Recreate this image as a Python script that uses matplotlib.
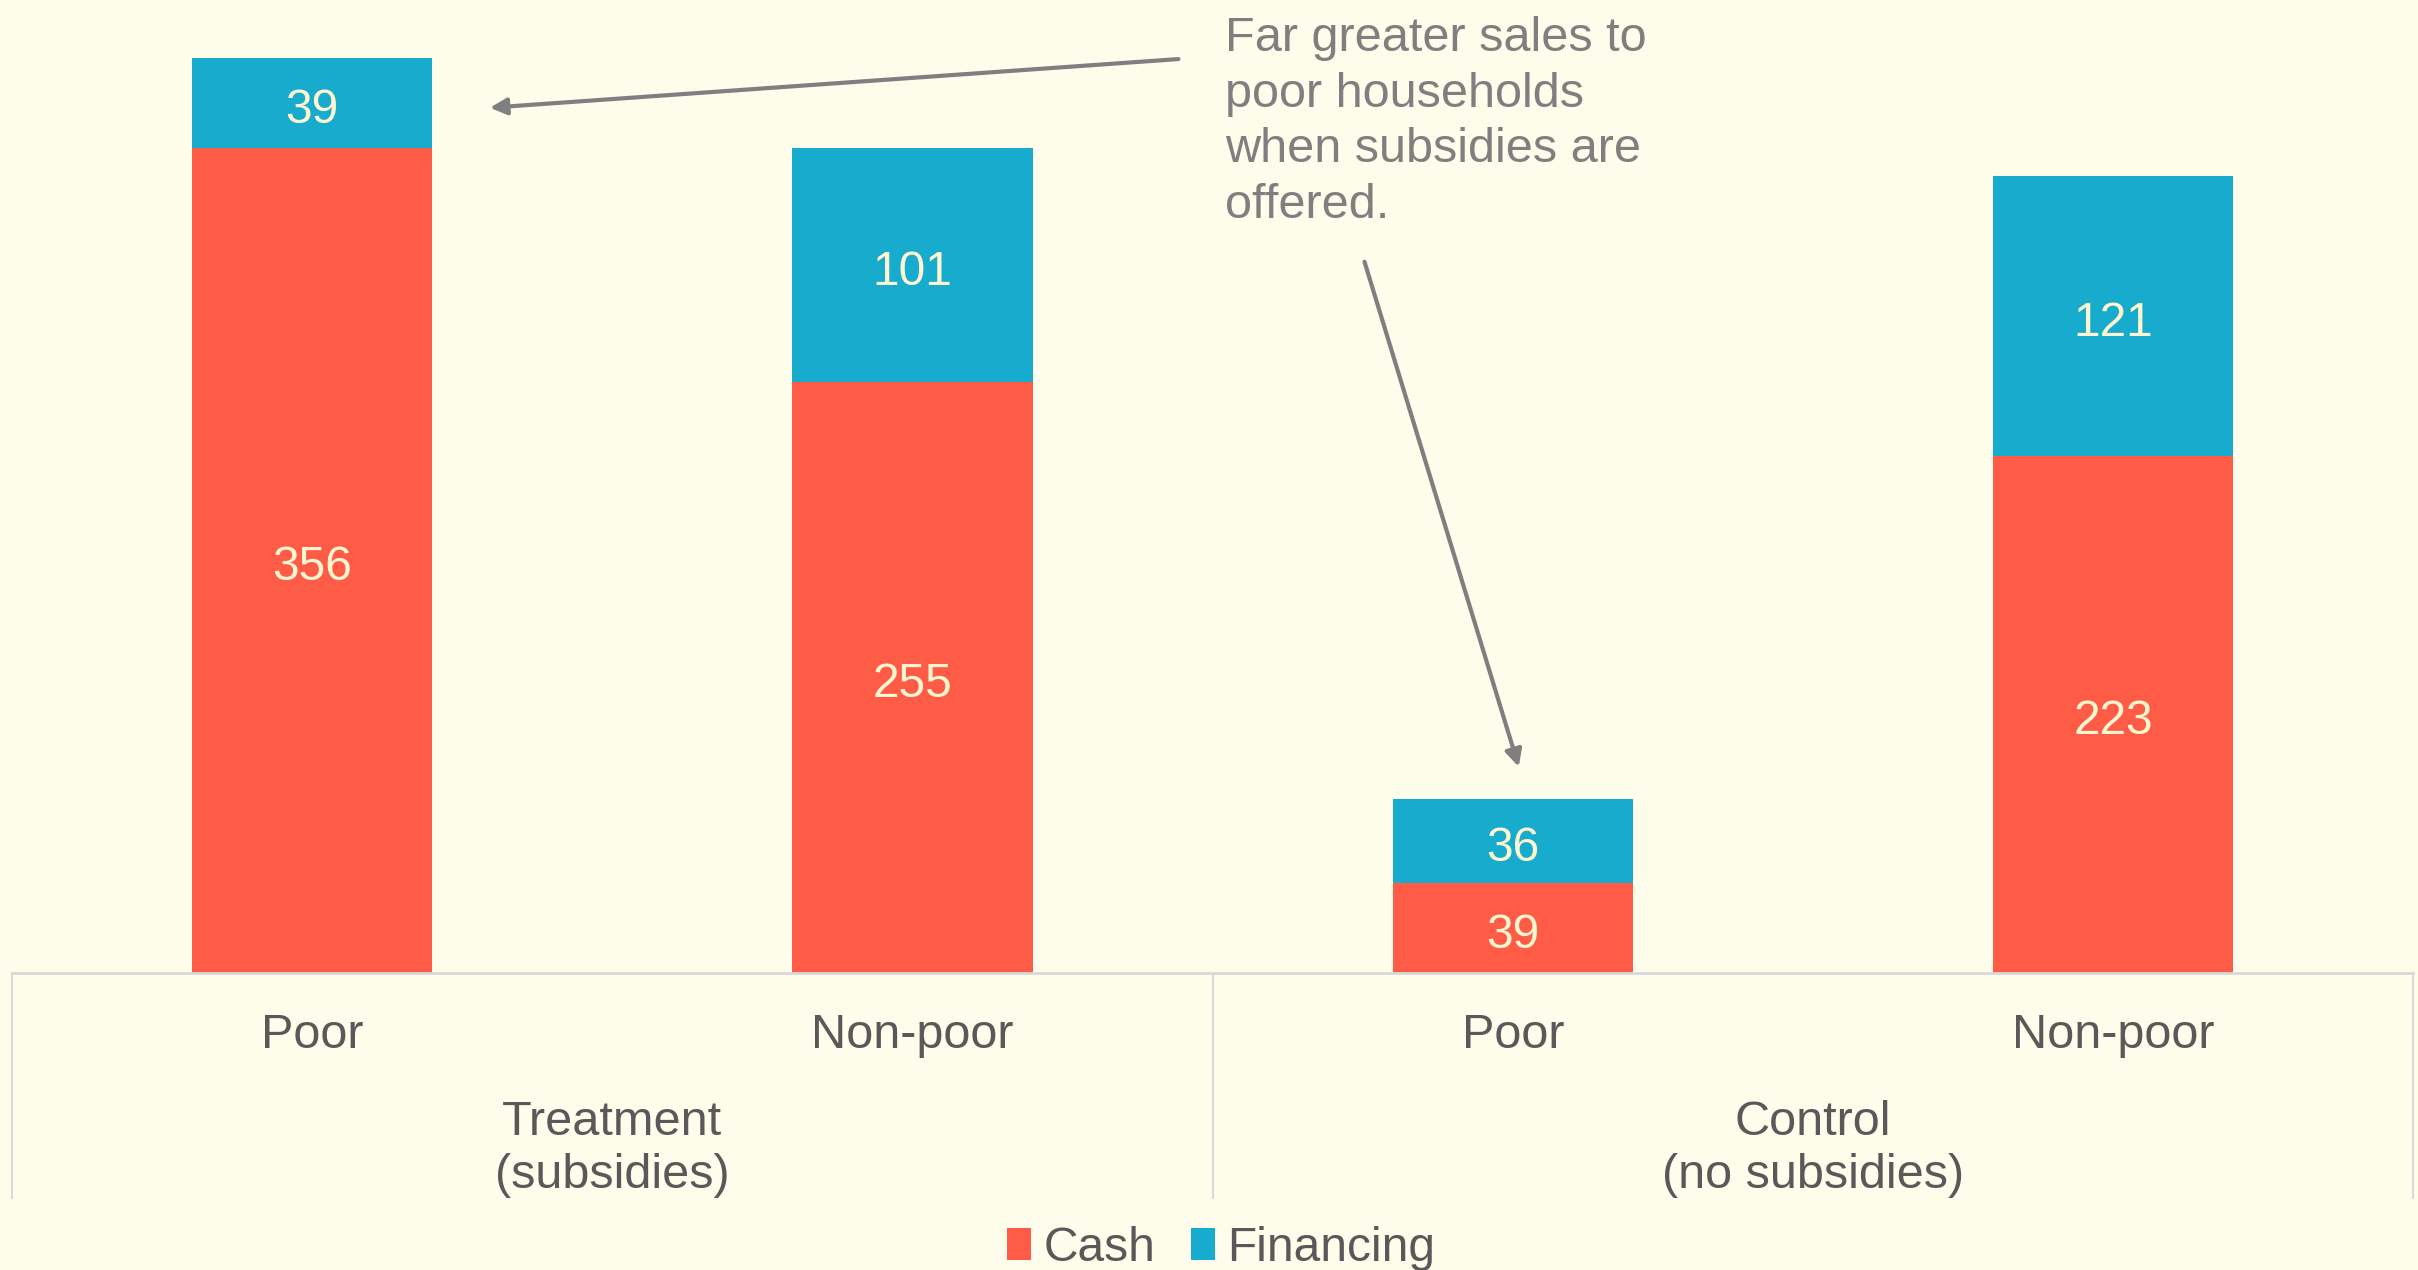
import matplotlib.pyplot as plt
from matplotlib.transforms import blended_transform_factory

plt.rcParams['font.family'] = ['Liberation Sans', 'DejaVu Sans']

groups = ['Treatment\n(subsidies)', 'Control\n(no subsidies)']
categories = ['Poor', 'Non-poor', 'Poor', 'Non-poor']
cash = [356, 255, 39, 223]
financing = [39, 101, 36, 121]

bg = '#fefdeb'
red = '#ff5c48'
blue = '#17abcd'
label_gray = '#595959'
note_gray = '#7f7f7f'
cream = '#fff6d0'

fig = plt.figure(figsize=(24.18, 12.70), dpi=100, facecolor=bg)
ax = fig.add_axes([0.005, 0.2339, 0.993, 0.7661], facecolor=bg)

x = list(range(len(categories)))
b1 = ax.bar(x, cash, width=0.4, color=red, label='Cash')
b2 = ax.bar(x, financing, width=0.4, bottom=cash, color=blue, label='Financing')

for i in x:
    ax.text(i, cash[i] / 2 - 1, str(cash[i]), ha='center', va='center_baseline',
            fontsize=34.5, color=cream)
    ax.text(i, cash[i] + financing[i] / 2 - 1, str(financing[i]), ha='center',
            va='center_baseline', fontsize=34.5, color=cream)

ax.set_xlim(-0.5, 3.5)
ax.set_ylim(0, 420)
ax.set_xticks([])
ax.set_yticks([])
for s in ax.spines.values():
    s.set_visible(False)

# category axis drawn by hand
tr = blended_transform_factory(ax.transData, ax.transAxes)
ax.plot([-0.5, 3.5], [0, 0], transform=tr, color='#d9d9d9', lw=2, clip_on=False)
for xv in [-0.5, 1.5, 3.5]:
    ax.plot([xv, xv], [0, -0.231], transform=tr, color='#d9d9d9', lw=1.5,
            clip_on=False)
for i, c in enumerate(categories):
    ax.text(i, -0.064, c, transform=tr, ha='center', va='center',
            fontsize=35, color=label_gray)
for g, name in enumerate(groups):
    ax.text(2 * g + 0.5, -0.181, name, transform=tr, ha='center', va='center',
            fontsize=35, color=label_gray, linespacing=1.25)

# annotation
ax.text(1.52, 413, 'Far greater sales to\npoor households\nwhen subsidies are\noffered.',
        ha='left', va='top', fontsize=35, color=note_gray, linespacing=1.3)
ax.annotate('', xy=(0.296, 373.5), xytext=(1.443, 394.5),
            arrowprops=dict(arrowstyle='-|>', color=note_gray, lw=3,
                            mutation_scale=25, shrinkA=0, shrinkB=0))
ax.annotate('', xy=(2.01, 89), xytext=(1.753, 307),
            arrowprops=dict(arrowstyle='-|>', color=note_gray, lw=3,
                            mutation_scale=25, shrinkA=0, shrinkB=0))

fig.legend(handles=[b1, b2], labels=['Cash', 'Financing'], loc='center',
           bbox_to_anchor=(0.505, 0.017), ncol=2, frameon=False, fontsize=34.5,
           labelcolor=label_gray, handlelength=0.5, handleheight=0.65,
           handletextpad=0.25, columnspacing=0.75)

fig.savefig('out.png', dpi=100, facecolor=bg)
